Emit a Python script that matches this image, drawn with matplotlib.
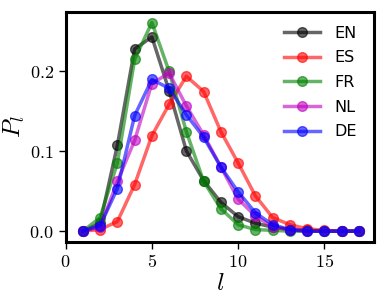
import matplotlib
matplotlib.use("Agg")
import matplotlib.pyplot as plt
import matplotlib.ticker as mticker

plt.rcParams["mathtext.fontset"] = "cm"

# lengte l en verdeling P_l per taal
lengths = list(range(1, 18))
p_en = [0.0, 0.010, 0.107, 0.227, 0.242, 0.175, 0.100, 0.063, 0.036, 0.018, 0.010, 0.005, 0.002, 0.001, 0.0, 0.0, 0.0]
p_es = [0.0, 0.002, 0.012, 0.058, 0.119, 0.158, 0.193, 0.174, 0.124, 0.085, 0.044, 0.017, 0.008, 0.003, 0.001, 0.0, 0.0]
p_fr = [0.0, 0.017, 0.085, 0.214, 0.260, 0.199, 0.124, 0.062, 0.028, 0.008, 0.002, 0.001, 0.0, 0.0, 0.0, 0.0, 0.0]
p_nl = [0.0, 0.005, 0.062, 0.113, 0.184, 0.197, 0.156, 0.120, 0.080, 0.040, 0.019, 0.005, 0.002, 0.0, 0.0, 0.0, 0.0]
p_de = [0.0, 0.007, 0.053, 0.144, 0.189, 0.178, 0.145, 0.117, 0.080, 0.049, 0.023, 0.008, 0.002, 0.0, 0.0, 0.0, 0.0]

series = [("EN", "black", p_en), ("ES", "red", p_es), ("FR", "green", p_fr),
          ("NL", "m", p_nl), ("DE", "blue", p_de)]

fig, ax = plt.subplots(figsize=(3.86, 3.02), dpi=100)
for name, color, vals in series:
    ax.plot(lengths, vals, "o-", color=color, alpha=0.6, lw=2.5, ms=7, label=name)

ax.set_xlim(0, 17.9)
ax.set_xticks([0, 5, 10, 15])
ax.set_yticks([0.0, 0.1, 0.2])
fmt = mticker.FuncFormatter(lambda v, p: f"${v:.1f}$")
ax.yaxis.set_major_formatter(fmt)
ax.xaxis.set_major_formatter(mticker.FuncFormatter(lambda v, p: f"${v:.0f}$"))
ax.tick_params(direction="out", length=5, width=1, labelsize=13)
for s in ax.spines.values():
    s.set_linewidth(2.2)

ax.set_xlabel("$l$", fontsize=18, labelpad=0)
ax.set_ylabel("$P_l$", fontsize=18, labelpad=2)
ax.legend(frameon=False, fontsize=11.5, loc="upper right", handlelength=2.3,
          labelspacing=0.6, borderaxespad=0.1, handletextpad=0.9,
          bbox_to_anchor=(0.97, 0.975))

fig.subplots_adjust(left=0.17, right=0.97, bottom=0.2, top=0.96)
fig.savefig("out.png", dpi=100)
